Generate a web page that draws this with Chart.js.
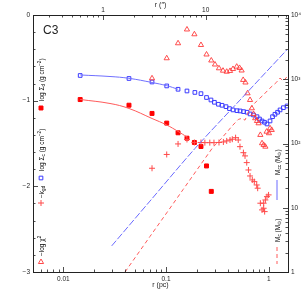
<!DOCTYPE html>
<html>
<head>
<meta charset="utf-8">
<script src="https://cdn.jsdelivr.net/npm/chart.js@4.4.0/dist/chart.umd.min.js"></script>
<style>
  html, body { margin: 0; padding: 0; background: #fff; }
  #c { display: block; }
</style>
</head>
<body>
<canvas id="c" width="305" height="305"></canvas>
<script>
// C3 profiles, r in pc
const rSigmaC = [0.0146, 0.0436, 0.0731, 0.1016, 0.131, 0.160, 0.191, 0.219, 0.248, 0.274, 0.296, 0.324, 0.351, 0.384, 0.415, 0.449, 0.491, 0.526, 0.569, 0.615, 0.658, 0.711, 0.769, 0.813, 0.861, 0.910, 0.962, 1.03, 1.09, 1.15, 1.22, 1.29, 1.39, 1.51];
const logSigmaC = [-0.706, -0.741, -0.782, -0.828, -0.867, -0.887, -0.904, -0.918, -0.963, -0.992, -1.019, -1.042, -1.054, -1.070, -1.093, -1.108, -1.117, -1.120, -1.128, -1.135, -1.155, -1.167, -1.187, -1.214, -1.237, -1.252, -1.272, -1.237, -1.187, -1.159, -1.135, -1.108, -1.082, -1.062];

const rSigmaD = [0.0146, 0.0436, 0.0731, 0.1016, 0.131, 0.160, 0.189, 0.219, 0.248, 0.276];
const logSigmaD = [-0.987, -1.053, -1.149, -1.262, -1.375, -1.438, -1.488, -1.535, -1.762, -2.059];

// model curves
const rFit = [0.0146, 0.0285, 0.0436, 0.0731, 0.1016, 0.131, 0.160];
const fitC = [-0.700, -0.718, -0.739, -0.788, -0.825, -0.867, null];
const fitD = [-0.986, -1.033, -1.091, -1.208, -1.284, -1.359, -1.424];

const rKgd = [0.0731, 0.1016, 0.131, 0.160, 0.189, 0.219, 0.239, 0.267, 0.293, 0.328, 0.362, 0.390, 0.420, 0.442, 0.476, 0.505, 0.525, 0.567, 0.588, 0.611, 0.635, 0.658, 0.692, 0.724, 0.764, 0.781, 0.829, 0.861, 0.893, 0.893, 0.913, 0.928, 0.962, 0.997];
const negKgd = [-1.789, -1.628, -1.505, -1.453, -1.488, -1.488, -1.490, -1.490, -1.490, -1.488, -1.482, -1.470, -1.459, -1.450, -1.432, -1.459, -1.537, -1.607, -1.645, -1.723, -1.809, -1.879, -1.925, -1.945, -1.984, -2.022, -2.197, -2.275, -2.197, -2.256, -2.295, -2.159, -2.120, -2.100];

const rChi = [0.0731, 0.1016, 0.131, 0.160, 0.189, 0.219, 0.248, 0.276, 0.300, 0.328, 0.359, 0.390, 0.420, 0.449, 0.488, 0.520, 0.545, 0.564, 0.594, 0.622, 0.658, 0.685, 0.711, 0.739, 0.769, 0.797, 0.829, 0.861, 0.893, 0.928, 0.954, 1.006, 1.03, 1.07];
const negLogChi = [-0.739, -0.505, -0.330, -0.169, -0.225, -0.350, -0.461, -0.531, -0.578, -0.622, -0.650, -0.662, -0.653, -0.630, -0.603, -0.618, -0.648, -0.758, -0.788, -0.914, -0.992, -1.089, -1.155, -1.205, -1.237, -1.264, -1.400, -1.497, -1.517, -1.537, -1.362, -1.380, -1.322, -1.342];

// masses (Msun), right axis
const rMcc = [0.0296, 0.0698, 0.1917, 0.525, 1.497];
const mCc = [2.55, 12.7, 83.9, 474, 2852];
const rMc = [0.0399, 0.0698, 0.1016, 0.1463, 0.2143, 0.287, 0.336, 0.449, 0.506, 0.546, 0.588, 0.658, 0.764, 0.885, 1.03, 1.197, 1.288, 1.387, 1.497];
const mC = [1.0, 3.57, 8.33, 19.1, 45.4, 87.9, 113, 194, 237, 246, 231, 356, 457, 567, 729, 904, 1044, 938, 1081];

// ticks
const rTicks = [0.006, 0.007, 0.008, 0.009, 0.01, 0.02, 0.03, 0.04, 0.05, 0.06, 0.07, 0.08, 0.09, 0.1, 0.2, 0.3, 0.4, 0.5, 0.6, 0.7, 0.8, 0.9, 1];
const rLabels = [0.01, 0.1, 1];
const arcTicks = [0.3, 0.4, 0.5, 0.6, 0.7, 0.8, 0.9, 1, 2, 3, 4, 5, 6, 7, 8, 9, 10, 20, 30, 40, 50, 60];
const arcLabels = [1, 10];
const leftTicks = [-3, -2.8, -2.6, -2.4, -2.2, -2, -1.8, -1.6, -1.4, -1.2, -1, -0.8, -0.6, -0.4, -0.2, 0];
const leftLabels = [-3, -2, -1, 0];
const massTicks = [1, 2, 3, 4, 5, 6, 7, 8, 9, 10, 20, 30, 40, 50, 60, 70, 80, 90, 100, 200, 300, 400, 500, 600, 700, 800, 900, 1000, 2000, 3000, 4000, 5000, 6000, 7000, 8000, 9000, 10000];
const massLabels = {1: '1', 10: '10', 100: '10²', 1000: '10³', 10000: '10⁴'};

const pcPerArcsec = 0.02437;

function pts(xs, ys) { return xs.map((x, i) => ({x: x, y: ys[i]})); }
function near(a, list) { return list.some(v => Math.abs(v - a) < 1e-9 * Math.max(1, Math.abs(v))); }

const font = {family: 'Liberation Sans', size: 6.5};
const axisCol = '#222';

function setTicks(list, labels) {
  return s => { s.ticks = list.map(v => ({value: v, major: near(v, labels)})); };
}

// inward tick marks on all four sides
const inTicks = {
  id: 'inTicks',
  afterDraw(chart) {
    const ctx = chart.ctx, a = chart.chartArea;
    ctx.save();
    ctx.strokeStyle = axisCol;
    ctx.lineWidth = 0.8;
    ctx.beginPath();
    [['x', 'bottom'], ['x2', 'top'], ['y', 'left'], ['y2', 'right']].forEach(([id, side]) => {
      const s = chart.scales[id];
      s.ticks.forEach(t => {
        const p = Math.round(s.getPixelForValue(t.value)) + 0.5;
        const len = t.major ? 5 : 2.5;
        if (side === 'bottom') { ctx.moveTo(p, a.bottom); ctx.lineTo(p, a.bottom - len); }
        if (side === 'top') { ctx.moveTo(p, a.top); ctx.lineTo(p, a.top + len); }
        if (side === 'left') { ctx.moveTo(a.left, p); ctx.lineTo(a.left + len, p); }
        if (side === 'right') { ctx.moveTo(a.right, p); ctx.lineTo(a.right - len, p); }
      });
    });
    ctx.stroke();
    ctx.restore();
  }
};

// rotated text with sub/superscripts, reads bottom to top
function richUp(ctx, x, y, parts, size) {
  ctx.save();
  ctx.translate(x, y);
  ctx.rotate(-Math.PI / 2);
  ctx.textBaseline = 'alphabetic';
  ctx.textAlign = 'left';
  let cx = 0;
  parts.forEach(([t, m]) => {
    const fs = m ? size * 0.72 : size;
    ctx.font = fs + 'px "Liberation Sans"';
    const dy = m === 'sub' ? size * 0.3 : m === 'sup' ? -size * 0.45 : 0;
    ctx.fillText(t, cx, dy);
    cx += ctx.measureText(t).width;
  });
  ctx.restore();
}

const keys = {
  id: 'keys',
  afterDraw(chart) {
    const ctx = chart.ctx;
    const dp = Chart.helpers.drawPoint;
    ctx.save();
    ctx.fillStyle = '#222';
    ctx.font = '12px "Liberation Sans"';
    ctx.fillText('C3', 43, 34);

    const fs = 6.5;
    ctx.fillStyle = '#000';
    richUp(ctx, 43.5, 101, [['log Σ', 0], ['d', 'sub'], [' (g cm', 0], ['−2', 'sup'], [')', 0]], fs);
    richUp(ctx, 43.5, 171, [['log Σ', 0], ['c', 'sub'], [' (g cm', 0], ['−2', 'sup'], [')', 0]], fs);
    richUp(ctx, 43.5, 198, [['−k', 0], ['gd', 'sub']], fs);
    richUp(ctx, 43.5, 256, [['−log χ', 0], ['2', 'sup']], fs);
    richUp(ctx, 279.5, 175, [['M', 0], ['cc', 'sub'], [' (M', 0], ['⊙', 'sub'], [')', 0]], fs);
    richUp(ctx, 279.5, 242, [['M', 0], ['c', 'sub'], [' (M', 0], ['⊙', 'sub'], [')', 0]], fs);

    ctx.lineWidth = 1;
    ctx.fillStyle = '#ff0000'; ctx.strokeStyle = '#ff0000';
    dp(ctx, {pointStyle: 'rect', radius: 2.8, borderWidth: 1, rotation: 0}, 41, 108);
    ctx.fillStyle = 'rgba(0,0,0,0)'; ctx.strokeStyle = '#3a3aff';
    dp(ctx, {pointStyle: 'rect', radius: 2.6, borderWidth: 1, rotation: 0}, 41, 178);
    ctx.strokeStyle = '#ff4a4a';
    dp(ctx, {pointStyle: 'cross', radius: 3, borderWidth: 1, rotation: 0}, 41, 203);
    dp(ctx, {pointStyle: 'triangle', radius: 3, borderWidth: 1, rotation: 0}, 41, 262);

    ctx.beginPath();
    ctx.strokeStyle = '#6a6aff';
    ctx.moveTo(277, 180); ctx.lineTo(277, 200);
    ctx.stroke();
    ctx.beginPath();
    ctx.setLineDash([4, 3]);
    ctx.strokeStyle = '#ff5a5a';
    ctx.moveTo(277, 247); ctx.lineTo(277, 264);
    ctx.stroke();
    ctx.restore();
  }
};

new Chart(document.getElementById('c'), {
  type: 'scatter',
  data: {
    datasets: [
      {data: pts(rMcc, mCc), yAxisID: 'y2', showLine: true, pointRadius: 0, borderColor: '#6a6aff', borderWidth: 1, borderDash: [7, 2], tension: 0.3},
      {data: pts(rMc, mC), yAxisID: 'y2', showLine: true, pointRadius: 0, borderColor: '#ff5a5a', borderWidth: 1, borderDash: [4, 3], tension: 0},
      {data: pts(rFit, fitC), yAxisID: 'y', showLine: true, pointRadius: 0, borderColor: '#6f6fff', borderWidth: 1, tension: 0.4},
      {data: pts(rFit, fitD), yAxisID: 'y', showLine: true, pointRadius: 0, borderColor: '#ff5a5a', borderWidth: 1, tension: 0.4},
      {data: pts(rChi, negLogChi), yAxisID: 'y', pointStyle: 'triangle', pointRadius: 3, borderColor: '#ff3a3a', backgroundColor: 'rgba(0,0,0,0)', borderWidth: 0.9},
      {data: pts(rKgd, negKgd), yAxisID: 'y', pointStyle: 'cross', pointRadius: 3, borderColor: '#ff4a4a', borderWidth: 1},
      {data: pts(rSigmaD, logSigmaD), yAxisID: 'y', pointStyle: 'rect', pointRadius: 2.8, borderColor: '#ff0000', backgroundColor: '#ff0000', borderWidth: 1},
      {data: pts(rSigmaC, logSigmaC), yAxisID: 'y', pointStyle: 'rect', pointRadius: 2.6, borderColor: '#3a3aff', backgroundColor: 'rgba(0,0,0,0)', borderWidth: 1}
    ]
  },
  options: {
    responsive: false,
    animation: false,
    events: [],
    layout: {padding: 0},
    plugins: {legend: {display: false}, tooltip: {enabled: false}},
    scales: {
      x: {
        type: 'logarithmic', position: 'bottom',
        min: 0.00507, max: 1.541,
        grid: {display: false, drawTicks: false},
        border: {display: true, color: axisCol, width: 1},
        afterBuildTicks: setTicks(rTicks, rLabels),
        afterFit: s => { s.height = 33; },
        ticks: {autoSkip: false, maxRotation: 0, padding: 3, color: '#222', font: font,
          callback: v => near(v, rLabels) ? String(v) : ''},
        title: {display: true, text: 'r (pc)', color: '#222', font: {family: 'Liberation Sans', size: 7}, padding: {top: 0, bottom: 16}}
      },
      x2: {
        type: 'logarithmic', position: 'top', axis: 'x',
        min: 0.00507 / pcPerArcsec, max: 1.541 / pcPerArcsec,
        grid: {display: false, drawTicks: false},
        border: {display: true, color: axisCol, width: 1},
        afterBuildTicks: setTicks(arcTicks, arcLabels),
        afterFit: s => { s.height = 15; },
        ticks: {autoSkip: false, maxRotation: 0, padding: 1, color: '#222', font: font,
          callback: v => near(v, arcLabels) ? String(v) : ''},
        title: {display: true, text: 'r (″)', color: '#222', font: {family: 'Liberation Sans', size: 7}, padding: {top: 1, bottom: 0}}
      },
      y: {
        type: 'linear', position: 'left',
        min: -3, max: 0,
        grid: {display: false, drawTicks: false},
        border: {display: true, color: axisCol, width: 1},
        afterBuildTicks: setTicks(leftTicks, leftLabels),
        afterFit: s => { s.width = 33; },
        ticks: {autoSkip: false, padding: 3, color: '#222', font: font,
          callback: v => near(v, leftLabels) ? (v < 0 ? '−' + Math.abs(v) : '0') : ''}
      },
      y2: {
        type: 'logarithmic', position: 'right',
        min: 1, max: 10000,
        grid: {display: false, drawTicks: false},
        border: {display: true, color: axisCol, width: 1},
        afterBuildTicks: setTicks(massTicks, Object.keys(massLabels).map(Number)),
        afterFit: s => { s.width = 17; },
        ticks: {autoSkip: false, padding: 3, color: '#222', font: font,
          callback: v => massLabels[Math.round(v)] && near(v, [Math.round(v)]) ? massLabels[Math.round(v)] : ''}
      }
    }
  },
  plugins: [inTicks, keys]
});
</script>
</body>
</html>
